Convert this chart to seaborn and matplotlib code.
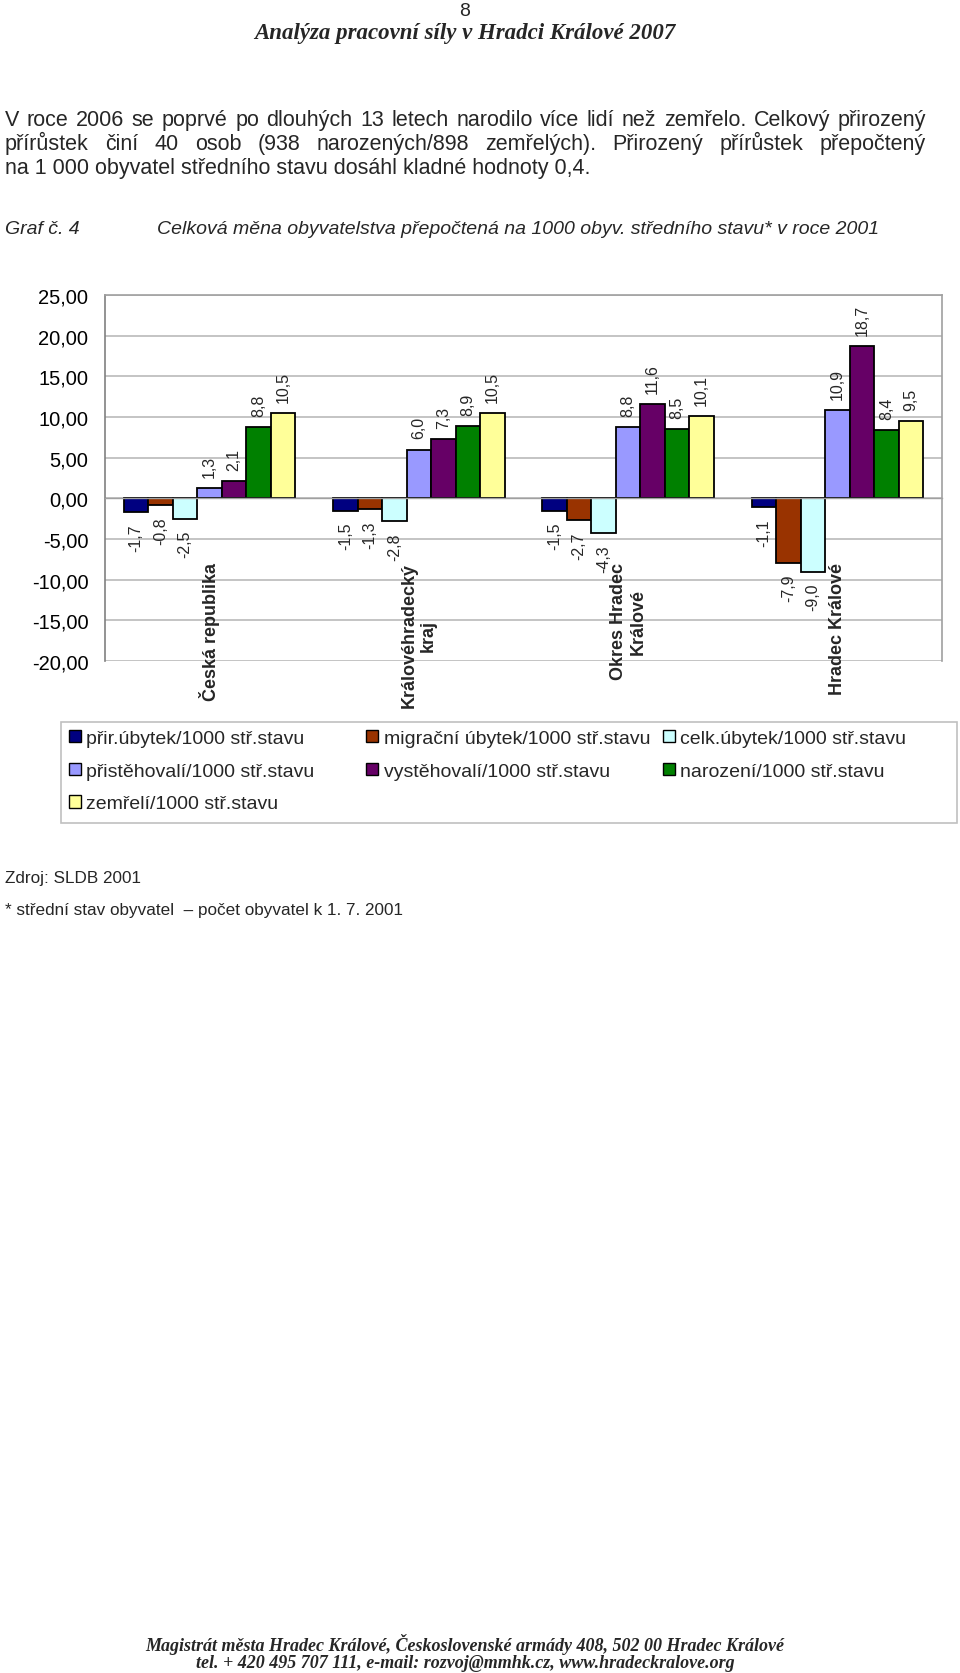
import numpy as np
import pandas as pd
import matplotlib
matplotlib.use("Agg")
import matplotlib.pyplot as plt
from matplotlib.patches import Rectangle
import seaborn as sns

# ---------------- data ----------------
categories = ["Česká republika", "Královéhradecký\nkraj", "Okres Hradec\nKrálové", "Hradec Králové"]
series = ["přir.úbytek/1000 stř.stavu", "migrační úbytek/1000 stř.stavu", "celk.úbytek/1000 stř.stavu",
          "přistěhovalí/1000 stř.stavu", "vystěhovalí/1000 stř.stavu", "narození/1000 stř.stavu",
          "zemřelí/1000 stř.stavu"]
prir_ubytek = [-1.7, -1.5, -1.5, -1.1]
migr_ubytek = [-0.8, -1.3, -2.7, -7.9]
celk_ubytek = [-2.5, -2.8, -4.3, -9.0]
pristehovali = [1.3, 6.0, 8.8, 10.9]
vystehovali = [2.1, 7.3, 11.6, 18.7]
narozeni = [8.8, 8.9, 8.5, 8.4]
zemreli = [10.5, 10.5, 10.1, 9.5]
y_ticks = [-20, -15, -10, -5, 0, 5, 10, 15, 20, 25]
colors = ["#000080", "#993300", "#CCFFFF", "#9999FF", "#660066", "#008000", "#FFFF99"]

values = [prir_ubytek, migr_ubytek, celk_ubytek, pristehovali, vystehovali, narozeni, zemreli]
rows = []
for s, vals in zip(series, values):
    for c, v in zip(categories, vals):
        rows.append({"kategorie": c, "ukazatel": s, "hodnota": v})
df = pd.DataFrame(rows)

# ---------------- figure ----------------
sns.set_style("white")
plt.rcParams["font.family"] = ["Liberation Sans", "DejaVu Sans"]

W, H = 960, 1674
fig = plt.figure(figsize=(W / 100, H / 100), dpi=100)
fx = lambda px: px / W
fy = lambda py: 1 - py / H

ax = fig.add_axes([fx(105), fy(662), fx(942) - fx(105), fy(296) - fy(662)])
sns.barplot(data=df, x="kategorie", y="hodnota", hue="ukazatel", order=categories,
            hue_order=series, palette=colors, width=0.82, gap=0, errorbar=None,
            edgecolor="black", linewidth=1.3, saturation=1, ax=ax)

handles, labels = ax.get_legend_handles_labels()
if ax.get_legend() is not None:
    ax.get_legend().remove()

ax.set_ylim(-20, 25)
ax.set_xlim(-0.5, 3.5)
ax.set_yticks(y_ticks)
ax.set_yticklabels([f"{t:.2f}".replace(".", ",") for t in y_ticks], fontsize=14.5)
ax.yaxis.grid(True, color="#B4B4B4", linewidth=1.1)
ax.set_axisbelow(True)
ax.set_xlabel("")
ax.set_ylabel("")

for sp in ["top", "right"]:
    ax.spines[sp].set_color("#A0A0A0")
    ax.spines[sp].set_linewidth(1.2)
ax.spines["left"].set_color("#808080")
ax.spines["left"].set_linewidth(1.2)
ax.spines["bottom"].set_position(("data", 0))
ax.spines["bottom"].set_color("#A0A0A0")
ax.spines["bottom"].set_linewidth(1.0)
ax.tick_params(axis="y", direction="out", length=5, color="#808080", pad=7, labelcolor="black")
ax.set_xticks([0.5, 1.5, 2.5])
ax.set_xticklabels(["", "", ""])
ax.tick_params(axis="x", direction="inout", length=8, color="#A0A0A0")

# value labels
for cont, vals in zip(ax.containers, values):
    ax.bar_label(cont, labels=[f"{v:.1f}".replace(".", ",") for v in vals], padding=8,
                 rotation=90, fontsize=11.5)

# category labels
for i, c in enumerate(categories):
    ax.text(i, -7.85, c, rotation=90, ha="center", va="top", multialignment="center",
            fontsize=13, fontweight="bold", clip_on=False)

# legend: three columns with equal (Excel-like) column widths
col_x = [69, 366, 663]
col_items = [[0, 3, 6], [1, 4], [2, 5]]
for x, idx in zip(col_x, col_items):
    lg = fig.legend([handles[i] for i in idx], [labels[i] for i in idx], ncol=1,
                    loc="upper left", bbox_to_anchor=(fx(x), fy(731)), borderaxespad=0,
                    borderpad=0, fontsize=14, frameon=False,
                    handlelength=0.6, handleheight=0.6, handletextpad=0.3, labelspacing=0.8)
    for h in lg.legend_handles:
        h.set_edgecolor("black")
        h.set_linewidth(1.0)
fig.add_artist(Rectangle((fx(61), fy(824)), fx(957) - fx(61), fy(723) - fy(824),
                         transform=fig.transFigure, fill=False, edgecolor="#C0C0C0", linewidth=1.2))

# ---------------- page texts ----------------
serif_bi = dict(family=["Liberation Serif", "DejaVu Serif"], style="italic", weight="bold")
fig.text(fx(465), fy(11), "8", ha="center", va="center", fontsize=14)
fig.text(fx(465), fy(34), "Analýza pracovní síly v Hradci Králové 2007", ha="center", va="center",
         fontsize=16.5, **serif_bi)

fig.canvas.draw()
renderer = fig.canvas.get_renderer()


def justified_line(text, x0, x1, y, **kw):
    words = text.split(" ")
    objs = [fig.text(0, fy(y), w, va="baseline", ha="left", **kw) for w in words]
    widths = [o.get_window_extent(renderer).width for o in objs]
    gap = (x1 - x0 - sum(widths)) / (len(words) - 1)
    x = x0
    for o, w in zip(objs, widths):
        o.set_x(fx(x))
        x += w + gap


para_kw = dict(fontsize=15.5)
justified_line("V roce 2006 se poprvé po dlouhých 13 letech narodilo více lidí než zemřelo. Celkový přirozený",
               5, 926, 126, **para_kw)
justified_line("přírůstek činí 40 osob (938 narozených/898 zemřelých). Přirozený přírůstek přepočtený",
               5, 926, 150, **para_kw)
fig.text(fx(5), fy(174), "na 1 000 obyvatel středního stavu dosáhl kladné hodnoty 0,4.", va="baseline",
         ha="left", **para_kw)

fig.text(fx(5), fy(230), "Graf č. 4", va="center", ha="left", fontsize=14, style="italic")
fig.text(fx(157), fy(230), "Celková měna obyvatelstva přepočtená na 1000 obyv. středního stavu* v roce 2001",
         va="center", ha="left", fontsize=14, style="italic")

fig.text(fx(5), fy(879), "Zdroj: SLDB 2001", va="center", ha="left", fontsize=12.3)
fig.text(fx(5), fy(911), "* střední stav obyvatel  – počet obyvatel k 1. 7. 2001", va="center", ha="left",
         fontsize=12.3)

fig.text(fx(465), fy(1645), "Magistrát města Hradec Králové, Československé armády 408, 502 00 Hradec Králové",
         ha="center", va="center", fontsize=13, **serif_bi)
fig.text(fx(465), fy(1664), "tel. + 420 495 707 111, e-mail: rozvoj@mmhk.cz, www.hradeckralove.org",
         ha="center", va="center", fontsize=13, **serif_bi)

fig.savefig("out.png", dpi=100)
